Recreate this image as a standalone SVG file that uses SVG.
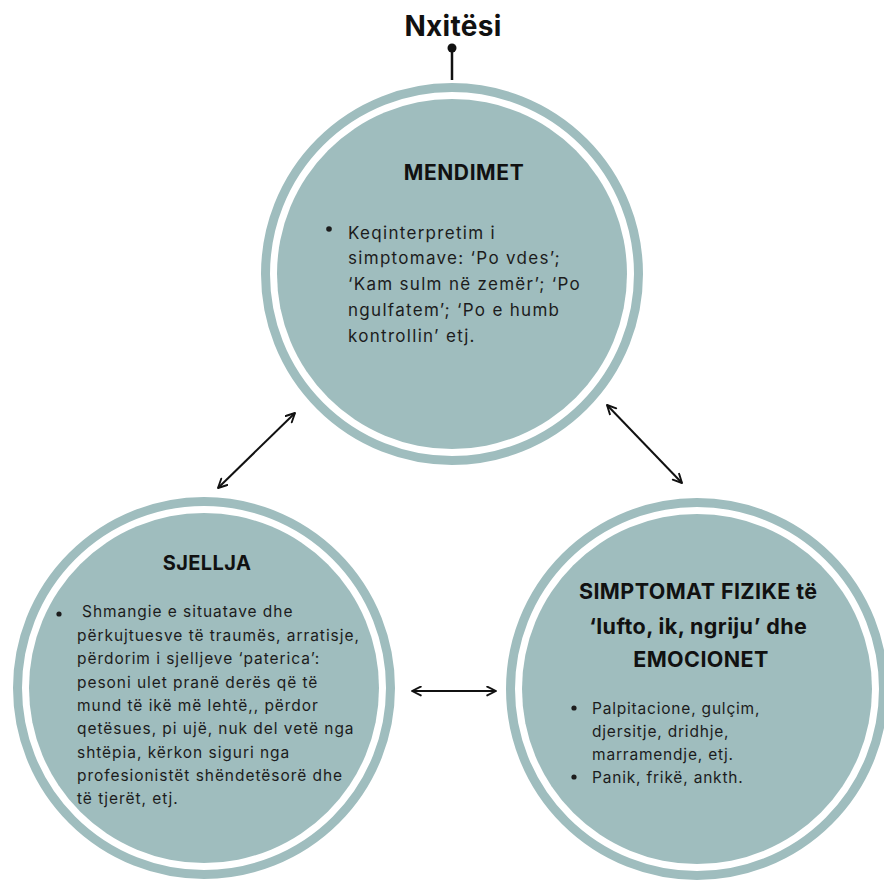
<svg xmlns="http://www.w3.org/2000/svg" width="884" height="881" viewBox="0 0 884 881">
  <style>
    .ring { fill: none; stroke: #9fbdbe; stroke-width: 9; }
    .disc { fill: #9fbdbe; }
    .title { font-family: Inter, "Liberation Sans", sans-serif; font-weight: 700; fill: #111; text-anchor: middle; }
    .body { font-family: Inter, "Liberation Sans", sans-serif; font-weight: 400; fill: #1c1c1c; }
    .dot { fill: #1c1c1c; }
    .link { stroke: #111; stroke-width: 2; fill: none; marker-start: url(#chev); marker-end: url(#chev); }
  </style>
  <defs>
    <marker id="chev" viewBox="0 0 10 10" refX="9" refY="5" markerWidth="5.5" markerHeight="5.5" orient="auto-start-reverse" markerUnits="strokeWidth">
      <path d="M1,1 L9,5 L1,9" fill="none" stroke="#111" stroke-width="1.7" stroke-linecap="round" stroke-linejoin="round"/>
    </marker>
  </defs>

  <rect width="884" height="881" fill="#ffffff"/>

  <!-- heading with pin stem -->
  <g id="heading">
    <text class="title" x="453" y="36" font-size="28" letter-spacing="0.3">Nxitësi</text>
    <line x1="452" y1="48" x2="452" y2="80" stroke="#111" stroke-width="2.5"/>
    <circle cx="452" cy="48" r="4.5" fill="#111"/>
  </g>

  <!-- thoughts -->
  <g id="mendimet">
    <circle class="ring" cx="452" cy="274" r="186.5"/>
    <circle class="disc" cx="452" cy="274" r="175"/>
    <text class="title" x="464" y="180" font-size="21" letter-spacing="0.6">MENDIMET</text>
    <circle class="dot" cx="329" cy="229" r="2.8"/>
    <text class="body" font-size="17" letter-spacing="1.3">
      <tspan x="348" y="239">Keqinterpretim i</tspan>
      <tspan x="348" y="264">simptomave: ‘Po vdes’;</tspan>
      <tspan x="348" y="290">‘Kam sulm në zemër’; ‘Po</tspan>
      <tspan x="348" y="316">ngulfatem’; ‘Po e humb</tspan>
      <tspan x="348" y="342">kontrollin’ etj.</tspan>
    </text>
  </g>

  <!-- behaviour -->
  <g id="sjellja">
    <circle class="ring" cx="204" cy="688" r="186.5"/>
    <circle class="disc" cx="204" cy="688" r="175"/>
    <text class="title" x="207" y="570" font-size="20" letter-spacing="0.4">SJELLJA</text>
    <circle class="dot" cx="59" cy="614" r="2.6"/>
    <text class="body" font-size="15.5" letter-spacing="0.95">
      <tspan x="82" y="617">Shmangie e situatave dhe</tspan>
      <tspan x="77" y="641">përkujtuesve të traumës, arratisje,</tspan>
      <tspan x="77" y="664">përdorim i sjelljeve ‘paterica’:</tspan>
      <tspan x="77" y="688">pesoni ulet pranë derës që të</tspan>
      <tspan x="77" y="711">mund të ikë më lehtë,, përdor</tspan>
      <tspan x="77" y="734">qetësues, pi ujë, nuk del vetë nga</tspan>
      <tspan x="77" y="758">shtëpia, kërkon siguri nga</tspan>
      <tspan x="77" y="781">profesionistët shëndetësorë dhe</tspan>
      <tspan x="77" y="804">të tjerët, etj.</tspan>
    </text>
  </g>

  <!-- physical symptoms and emotions -->
  <g id="simptomat">
    <circle class="ring" cx="697" cy="689" r="186.5"/>
    <circle class="disc" cx="697" cy="689" r="175"/>
    <text class="title" font-size="21.5" letter-spacing="0.4">
      <tspan x="701" y="599">SIMPTOMAT FIZIKE të</tspan>
      <tspan x="701" y="634">‘lufto, ik, ngriju’ dhe</tspan>
      <tspan x="701" y="667">EMOCIONET</tspan>
    </text>
    <circle class="dot" cx="574" cy="708" r="2.6"/>
    <circle class="dot" cx="574" cy="777" r="2.6"/>
    <text class="body" font-size="15.5" letter-spacing="0.8">
      <tspan x="592" y="714">Palpitacione, gulçim,</tspan>
      <tspan x="592" y="737">djersitje, dridhje,</tspan>
      <tspan x="592" y="760">marramendje, etj.</tspan>
      <tspan x="592" y="783">Panik, frikë, ankth.</tspan>
    </text>
  </g>

  <!-- two-way links between the three circles -->
  <g id="connectors">
    <line class="link" x1="295" y1="413" x2="218" y2="488"/>
    <line class="link" x1="607" y1="405" x2="682" y2="483"/>
    <line class="link" x1="412" y1="691" x2="496" y2="691"/>
  </g>
</svg>
